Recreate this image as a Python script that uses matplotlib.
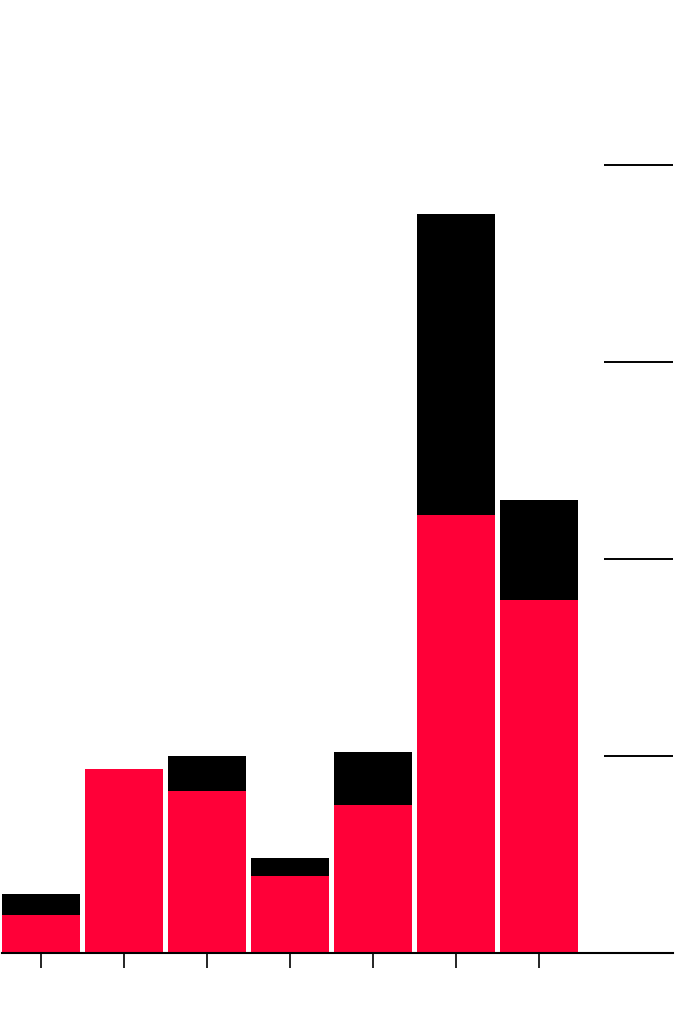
import matplotlib
matplotlib.use("Agg")
import matplotlib.pyplot as plt

categories = ["A", "B", "C", "D", "E", "F", "G"]
red_values = [19, 93, 82, 39, 75, 222, 179]
black_values = [11, 0, 18, 9, 27, 153, 51]
y_ticks = [0, 100, 200, 300, 400]

W, H = 690, 1030
fig = plt.figure(figsize=(W / 100, H / 100), dpi=100)
left, right = 2 / W, 673 / W
bottom = (H - 952.7) / H
top = (H - 164.7) / H
ax = fig.add_axes([left, bottom, right - left, top - bottom])

x = list(range(len(categories)))
ax.bar(x, red_values, width=0.94, color="#FF0038", linewidth=0)
ax.bar(x, black_values, bottom=red_values, width=0.94, color="#000000", linewidth=0)

ax.set_xlim(-0.47, -0.47 + 671 / 83)
ax.set_ylim(0, 400)
ax.set_xticks(x)
ax.set_xticklabels([])
ax.set_yticks(y_ticks)
ax.set_yticklabels([])

for s in ["top", "left", "right"]:
    ax.spines[s].set_visible(False)
ax.spines["bottom"].set_linewidth(1.5)
ax.spines["bottom"].set_color("#000000")

ax.tick_params(axis="x", direction="out", length=11, width=1.2, color="#000000")
ax.yaxis.tick_right()
ax.tick_params(axis="y", which="both", direction="in", length=49.7, width=1.4,
               color="#000000", left=False, right=True)
for t in ax.yaxis.get_major_ticks():
    t.tick2line.set_clip_on(False)

fig.savefig("out.png", dpi=100, facecolor="white")
